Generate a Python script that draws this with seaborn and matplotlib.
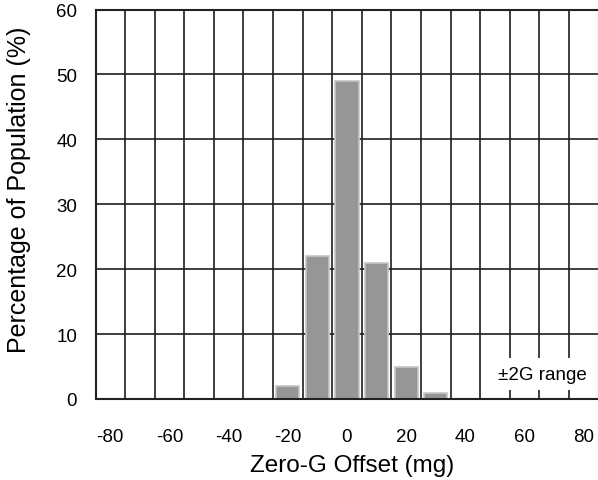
import numpy as np
import matplotlib
matplotlib.use("Agg")
import matplotlib.pyplot as plt
import seaborn as sns

# Data
offsets = [-20, -10, 0, 10, 20, 30]          # Zero-G offset bin centres (mg)
percent = [2, 22, 49, 21, 5, 1]              # Percentage of population (%)
x_tick_values = [-80, -60, -40, -20, 0, 20, 40, 60, 80]
x_tick_labels = ['-80', '-60', '-40', '-20', '0', '20', '40', '60', '80']
y_tick_values = [0, 10, 20, 30, 40, 50, 60]
y_tick_labels = ['0', '10', '20', '30', '40', '50', '60']

sns.set_theme(style="white")
plt.rcParams['font.family'] = ['Liberation Sans', 'DejaVu Sans']
plt.rcParams['axes.unicode_minus'] = False

W, H = 598, 481
fig = plt.figure(figsize=(W / 100, H / 100), dpi=100)
left, right, top, bottom = 95.5, 598.5, 10.5, 400.0
ax = fig.add_axes([left / W, 1 - bottom / H, (right - left) / W, (bottom - top) / H])

sns.barplot(x=offsets, y=percent, native_scale=True, width=0.78,
            color='#969696', saturation=1, edgecolor='#c6c6c6', linewidth=1.2,
            errorbar=None, ax=ax, zorder=2)

ax.set_xlim(-85, 85)
ax.set_ylim(0, 60)
ax.set_xticks(x_tick_values)
ax.set_xticklabels(x_tick_labels)
ax.set_xticks(np.arange(-85, 86, 10), minor=True)
ax.set_yticks(y_tick_values)
ax.set_yticklabels(y_tick_labels)

ax.set_axisbelow(True)
ax.grid(False)
ax.grid(which='minor', axis='x', color='#1e1e1e', linewidth=1.2)
ax.grid(which='major', axis='y', color='#1e1e1e', linewidth=1.2)

ax.tick_params(which='both', length=0, colors='black')
ax.tick_params(axis='x', which='major', labelsize=13.5, pad=21)
ax.tick_params(axis='y', which='major', labelsize=13.5, pad=13.3)

for s in ax.spines.values():
    s.set_visible(True)
    s.set_color('#222222')
    s.set_linewidth(1.5)

ax.set_xlabel('Zero-G Offset (mg)', fontsize=17.5, color='black')
ax.set_ylabel('Percentage of Population (%)', fontsize=18, color='black')
ax.xaxis.set_label_coords((352 - left) / (right - left), (bottom - 455) / (bottom - top))
ax.yaxis.set_label_coords((31 - left) / (right - left), (bottom - 190) / (bottom - top))

ax.text((542 - left) / (right - left), (bottom - 375) / (bottom - top), '±2G range',
        transform=ax.transAxes, ha='center', va='center', fontsize=13.5, color='black',
        bbox=dict(boxstyle='square,pad=0.38', facecolor='white', edgecolor='none'),
        zorder=5)

fig.savefig('out.png', dpi=100)
